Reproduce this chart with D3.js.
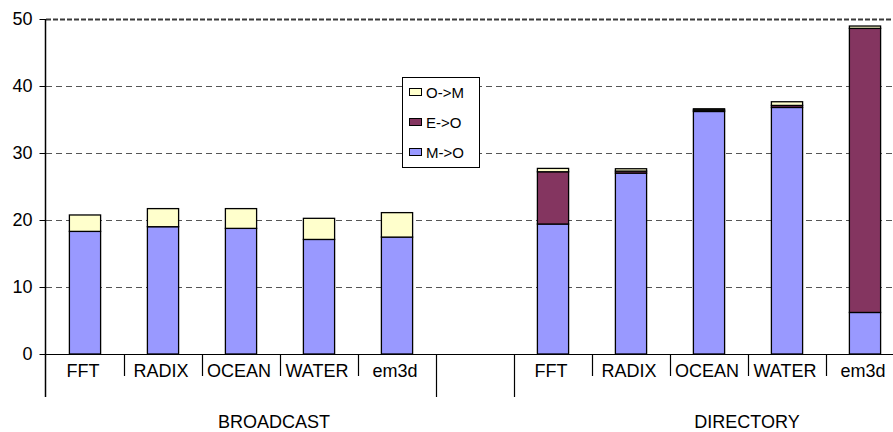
<!DOCTYPE html>
<html>
<head>
<meta charset="utf-8">
<script src="https://cdn.jsdelivr.net/npm/d3@7"></script>
<style>
  body { margin: 0; background: #fff; }
  text { font-family: "Liberation Sans", Arial, sans-serif; fill: #000; }
</style>
</head>
<body>
<div class="container"></div>
<script>
// Data
var categories = ["FFT", "RADIX", "OCEAN", "WATER", "em3d", "", "FFT", "RADIX", "OCEAN", "WATER", "em3d"];
var groupNames = ["BROADCAST", "DIRECTORY"];
var mToO = [18.3, 19.0, 18.75, 17.1, 17.45, 0, 19.4, 27.0, 36.2, 36.8, 6.2];
var eToO = [0, 0, 0, 0, 0, 0, 7.8, 0.3, 0.2, 0.3, 42.4];
var oToM = [2.45, 2.7, 2.95, 3.15, 3.65, 0, 0.5, 0.35, 0.2, 0.55, 0.35];
var seriesNames = ["M->O", "E->O", "O->M"];
var yTicks = [0, 10, 20, 30, 40, 50];

var svgWidth = 893;
var svgHeight = 432;

var colors = {"M->O": "#9999ff", "E->O": "#843560", "O->M": "#ffffcc"};

var svg = d3.select(".container")
  .append("svg")
  .attr("width", svgWidth)
  .attr("height", svgHeight);

// build rows for the stack
var rows = categories.map(function(c, i) {
  return {idx: i, name: c, "M->O": mToO[i], "E->O": eToO[i], "O->M": oToM[i]};
});

var xScale = d3.scaleBand()
  .domain(rows.map(d => d.idx))
  .range([46, 904])
  .padding(0);

var yScale = d3.scaleLinear()
  .domain([0, 50])
  .range([354, 19]);

var barW = xScale.bandwidth() * 0.4;

// gridlines
svg.append("g").selectAll("line")
  .data(yTicks.filter(d => d > 0))
  .enter()
  .append("line")
  .attr("x1", 46)
  .attr("x2", svgWidth)
  .attr("y1", d => yScale(d) + 0.5)
  .attr("y2", d => yScale(d) + 0.5)
  .attr("stroke", d => d === 50 ? "#3a3a3a" : "#555")
  .attr("stroke-width", d => d === 50 ? 2 : 1)
  .attr("stroke-dasharray", d => d === 50 ? "5,2" : "6,4");

// stacked bars
var stacked = d3.stack().keys(seriesNames)(rows);

svg.append("g").selectAll("g")
  .data(stacked)
  .enter()
  .append("g")
  .attr("fill", d => colors[d.key])
  .selectAll("rect")
  .data(d => d.filter(s => s[1] - s[0] > 0))
  .enter()
  .append("rect")
  .attr("x", d => xScale(d.data.idx) + (xScale.bandwidth() - barW) / 2)
  .attr("y", d => yScale(d[1]))
  .attr("width", barW)
  .attr("height", d => yScale(d[0]) - yScale(d[1]))
  .attr("stroke", "#000")
  .attr("stroke-width", 1.3);

// y axis
var leftAxis = d3.axisLeft(yScale)
  .tickValues(yTicks)
  .tickSize(6)
  .tickPadding(7);

var yAxis = svg.append("g")
  .attr("transform", "translate(45.5,0)")
  .call(leftAxis);
yAxis.select(".domain").remove();
yAxis.selectAll("line").attr("stroke", "#000");
yAxis.selectAll("text")
  .style("font-size", "18px")
  .style("font-family", "Liberation Sans, Arial, sans-serif");

svg.append("line")
  .attr("x1", 45.5).attr("x2", 45.5)
  .attr("y1", 19).attr("y2", 397)
  .attr("stroke", "#000").attr("stroke-width", 1.5);

// x axis line
svg.append("line")
  .attr("x1", 40).attr("x2", svgWidth)
  .attr("y1", 354.5).attr("y2", 354.5)
  .attr("stroke", "#000").attr("stroke-width", 1.2);

// category separators (short) and group separators (long)
var boundaries = d3.range(1, categories.length);
svg.append("g").selectAll("line")
  .data(boundaries)
  .enter()
  .append("line")
  .attr("x1", d => Math.round(xScale(d)) + 0.5)
  .attr("x2", d => Math.round(xScale(d)) + 0.5)
  .attr("y1", 354)
  .attr("y2", d => (d === 5 || d === 6) ? 397 : 376)
  .attr("stroke", "#000")
  .attr("stroke-width", 1.2);

// category labels
svg.append("g").selectAll("text")
  .data(rows)
  .enter()
  .append("text")
  .attr("x", d => xScale(d.idx) + xScale.bandwidth() / 2 - 2)
  .attr("y", 377)
  .attr("text-anchor", "middle")
  .style("font-size", "18px")
  .text(d => d.name);

// group labels
var groupX = [274, 747];
svg.append("g").selectAll("text")
  .data(groupNames)
  .enter()
  .append("text")
  .attr("x", (d, i) => groupX[i])
  .attr("y", 428)
  .attr("text-anchor", "middle")
  .style("font-size", "18px")
  .text(d => d);

// legend
var legend = svg.append("g");
legend.append("rect")
  .attr("x", 402.5).attr("y", 77.5)
  .attr("width", 77).attr("height", 90)
  .attr("fill", "#fff").attr("stroke", "#000");

var legendItems = ["O->M", "E->O", "M->O"];
var legendRow = legend.selectAll("g.item")
  .data(legendItems)
  .enter()
  .append("g")
  .attr("class", "item")
  .attr("transform", (d, i) => `translate(409, ${92 + i * 30})`);

legendRow.append("rect")
  .attr("x", 0.5).attr("y", -3.5)
  .attr("width", 12).attr("height", 7)
  .attr("fill", d => colors[d])
  .attr("stroke", "#000");

legendRow.append("text")
  .attr("x", 17)
  .attr("y", 5.5)
  .style("font-size", "15px")
  .text(d => d);
</script>
</body>
</html>
